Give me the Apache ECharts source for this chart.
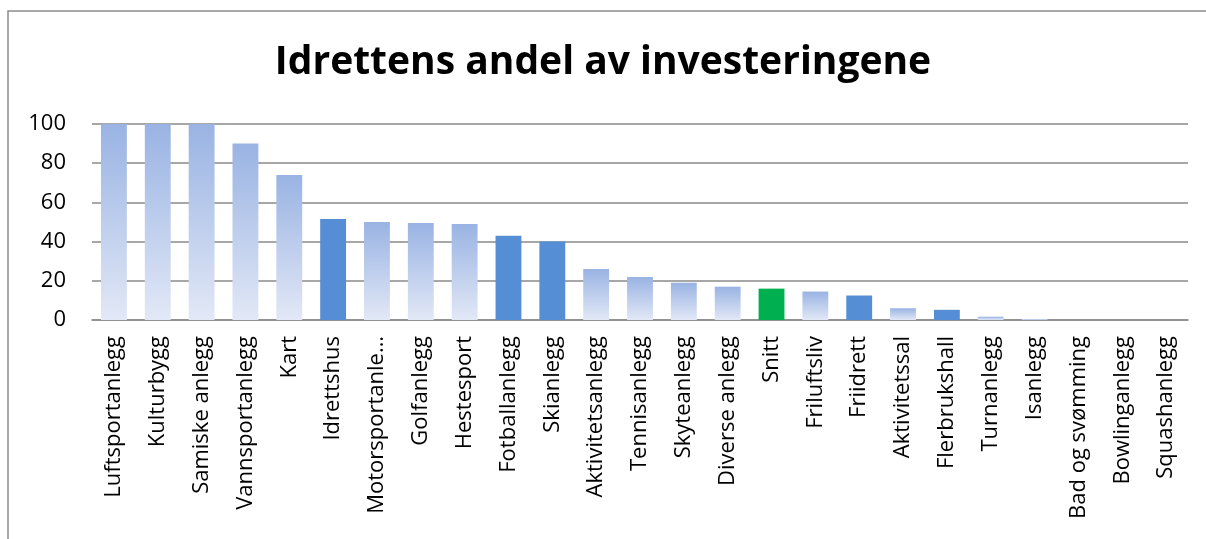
<!DOCTYPE html>
<html>
<head>
<meta charset="utf-8">
<script src="https://cdn.jsdelivr.net/npm/echarts@6/dist/echarts.min.js"></script>
<style>
html,body{margin:0;padding:0;background:#fff;}
#c{width:1206px;height:539px;}
</style>
</head>
<body>
<div id="c"></div>
<script>
const titleText = 'Idrettens andel av investeringene';
const categories = ['Luftsportanlegg','Kulturbygg','Samiske anlegg','Vannsportanlegg','Kart','Idrettshus','Motorsportanlegg','Golfanlegg','Hestesport','Fotballanlegg','Skianlegg','Aktivitetsanlegg','Tennisanlegg','Skyteanlegg','Diverse anlegg','Snitt','Friluftsliv','Friidrett','Aktivitetssal','Flerbrukshall','Turnanlegg','Isanlegg','Bad og svømming','Bowlinganlegg','Squashanlegg'];
const values = [100,100,100,90,74,51.5,50,49.5,49,43,40,26,22,19,17,16,14.5,12.5,6,5.2,1.7,0.5,0,0,0];
const highlighted = ['Idrettshus','Fotballanlegg','Skianlegg','Friidrett','Flerbrukshall'];
const averageName = 'Snitt';
const yTicks = [0,20,40,60,80,100];

const labelFont = '22px "Open Sans"';
const ctx = document.createElement('canvas').getContext('2d');
ctx.font = labelFont;
// available label length: between the longest label shown in full and the truncated one
const wFull = ctx.measureText('Bad og svømming').width;
const wCut = ctx.measureText('Motorsportanlegg').width;
const labelWidth = Math.max(wFull + 1, Math.min(wCut - 1, (wFull + wCut) / 2));

const gradient = new echarts.graphic.LinearGradient(0,0,0,1,[
  {offset:0,color:'#99b3e3'},
  {offset:1,color:'#e2e8f6'}
]);
const data = categories.map((c,i)=>{
  let color = gradient;
  if (highlighted.includes(c)) color = '#558ed5';
  if (c === averageName) color = '#00b050';
  return {value: values[i], itemStyle:{color}};
});

const chart = echarts.init(document.getElementById('c'));
chart.setOption({
  animation:false,
  title:{
    text:titleText, left:'center', top:38,
    textStyle:{fontFamily:'Open Sans', fontWeight:'bold', fontSize:39, color:'#000'}
  },
  graphic:[{
    type:'rect', silent:true, z:-10,
    shape:{x:8,y:11,width:1400,height:800},
    style:{fill:'none', stroke:'#8c8c8c', lineWidth:1.5}
  }],
  grid:{left:92,right:18,top:124,bottom:219,containLabel:false},
  xAxis:{
    type:'category', data:categories,
    axisLine:{show:true,lineStyle:{color:'#8a8a8a',width:1.5}},
    axisTick:{show:false},
    axisLabel:{
      interval:0, rotate:90, margin:16, color:'#000',
      fontFamily:'Open Sans', fontSize:22,
      width:labelWidth, overflow:'truncate', ellipsis:'…'
    }
  },
  yAxis:{
    type:'value', min:0, max:100, interval:20,
    axisLine:{show:false}, axisTick:{show:false},
    axisLabel:{color:'#000', fontFamily:'Open Sans', fontSize:22, margin:26,
      formatter:(v)=> yTicks.includes(v) ? String(v) : ''},
    splitLine:{lineStyle:{color:'#8a8a8a',width:1.5}}
  },
  series:[{
    type:'bar', data:data, barCategoryGap:'41%'
  }]
});
</script>
</body>
</html>
